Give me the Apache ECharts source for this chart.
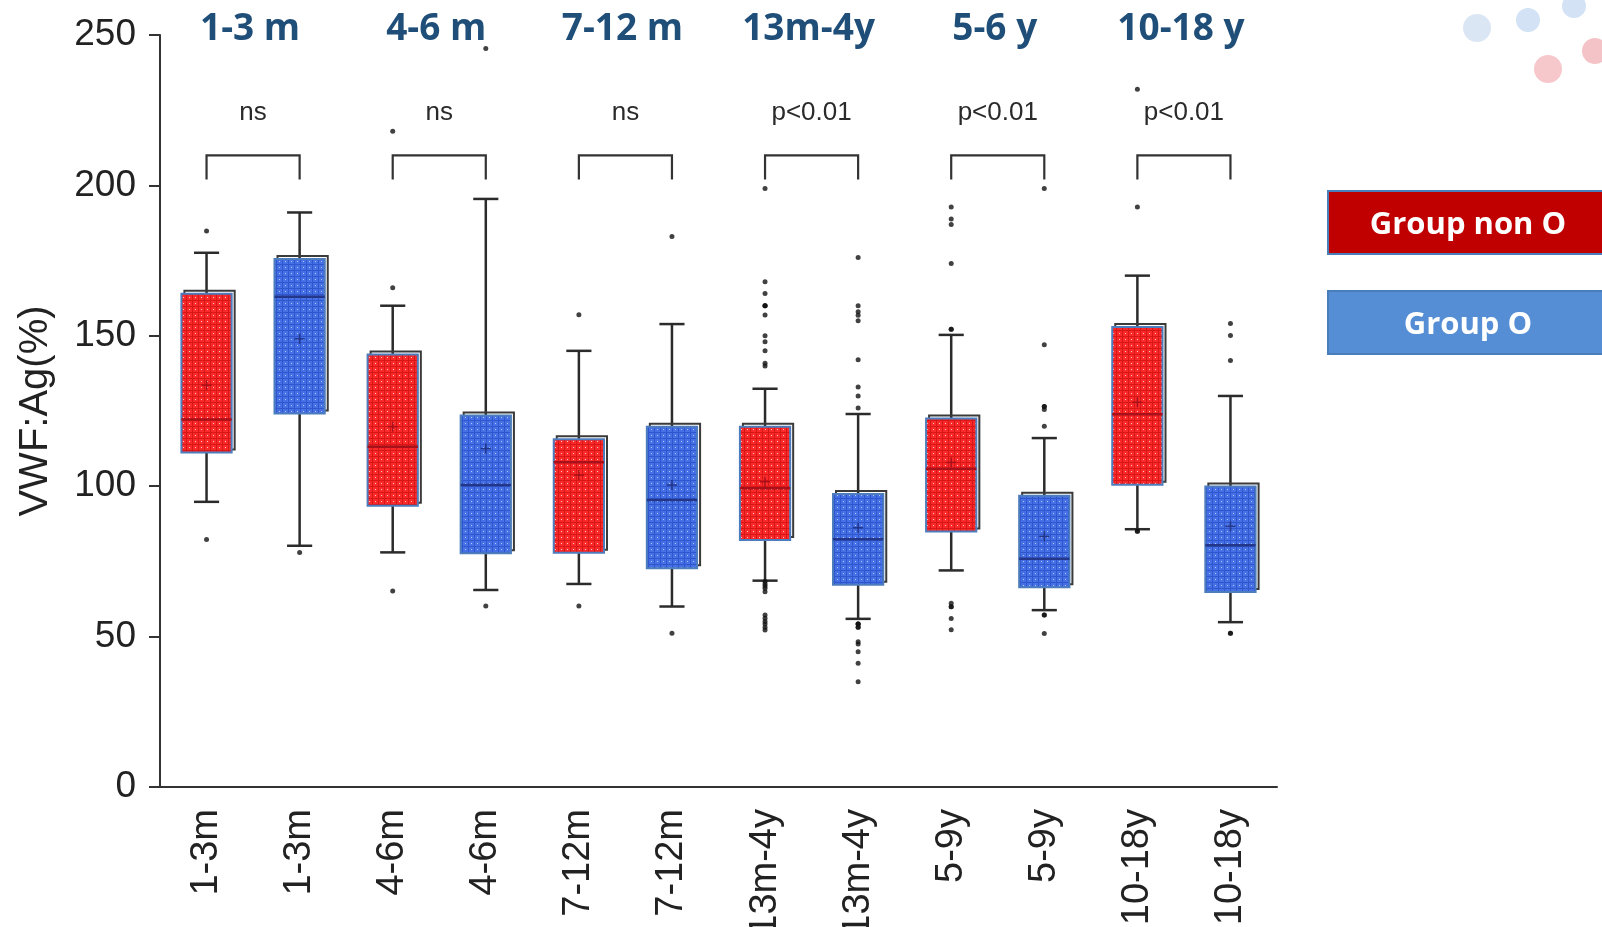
<!DOCTYPE html>
<html>
<head>
<meta charset="utf-8">
<script src="https://cdn.jsdelivr.net/npm/echarts@6/dist/echarts.min.js"></script>
<style>
html,body{margin:0;padding:0;background:#fff;}
#chart{width:1602px;height:927px;}
</style>
</head>
<body>
<div id="chart"></div>
<script>
// ---- data ----
const categories = ['1-3m','1-3m','4-6m','4-6m','7-12m','7-12m','13m-4y','13m-4y','5-9y','5-9y','10-18y','10-18y'];
const groupLabels = ['1-3 m','4-6 m','7-12 m','13m-4y','5-6 y','10-18 y'];
const pLabels = ['ns','ns','ns','p<0.01','p<0.01','p<0.01'];

// [whisker low, Q1, median, Q3, whisker high]
const nonOBoxes = [
  [94.8, 111.2, 122.2, 164.0, 177.6],
  [78.0, 93.5, 113.1, 143.8, 160.0],
  [67.5, 77.9, 108.0, 115.6, 145.0],
  [68.6, 82.1, 99.3, 119.8, 132.4],
  [72.0, 84.9, 105.8, 122.5, 150.3],
  [85.7, 100.5, 123.9, 152.9, 170.0]
];
const oBoxes = [
  [80.2, 124.2, 163.0, 175.5, 191.0],
  [65.5, 77.7, 100.4, 123.5, 195.5],
  [60.0, 72.7, 95.4, 119.8, 153.9],
  [55.9, 67.2, 82.4, 97.4, 124.0],
  [58.8, 66.4, 75.9, 96.8, 116.0],
  [54.8, 64.8, 80.4, 99.9, 130.0]
];
const nonOMeans = [133.6, 119.8, 103.7, 101.5, 107.9, 127.9];
const oMeans = [149.0, 112.5, 100.4, 86.2, 83.3, 86.7];

const nonOOutliers = [
  [184.8, 82.3],
  [218.0, 166.0, 65.2],
  [157.0, 60.2],
  [199.0, 168.0, 164.1, 160.0, 160.0, 160.0, 156.9, 150.0, 148.0, 145.0, 140.9, 140.0,
   68.3, 67.5, 66.8, 66.1, 64.9, 57.2, 56.1, 55.0, 54.2, 53.1, 52.2],
  [192.8, 188.8, 187.0, 174.0, 152.2, 152.2, 61.1, 59.9, 59.9, 56.0, 52.3],
  [232.0, 192.8, 85.0, 85.0]
];
const oOutliers = [
  [78.0],
  [245.5, 60.2],
  [183.0, 51.1],
  [176.0, 160.0, 158.0, 156.8, 155.0, 142.0, 133.0, 130.0, 126.0,
   54.2, 54.2, 54.2, 53.1, 53.1, 48.3, 47.5, 45.0, 41.1, 35.0],
  [199.0, 147.0, 126.5, 126.5, 125.5, 119.9, 57.2, 57.2, 51.0],
  [154.1, 150.1, 141.8, 51.1, 51.1]
];

const yTicks = {min: 0, max: 250, interval: 50};
const bracketLevels = {legLow: 202, top: 210, pText: 224, groupText: 252};

// ---- build ----
function makePattern(base, line, dot) {
  const c = document.createElement('canvas');
  c.width = 6; c.height = 6;
  const g = c.getContext('2d');
  g.fillStyle = base; g.fillRect(0, 0, 6, 6);
  g.fillStyle = line; g.fillRect(0, 0, 6, 1); g.fillRect(0, 0, 1, 6);
  g.fillStyle = dot; g.fillRect(3, 3, 1, 1);
  return c;
}
const redPat = makePattern('#fb2a2a', '#d81616', '#ffc8c8');
const bluePat = makePattern('#4570e6', '#2f56cc', '#b6c7f5');

const boxRows = [];
nonOBoxes.forEach((b, k) => boxRows.push([2 * k, ...b, nonOMeans[k], 0]));
oBoxes.forEach((b, k) => boxRows.push([2 * k + 1, ...b, oMeans[k], 1]));

const nonOScatter = [];
nonOOutliers.forEach((arr, k) => arr.forEach(v => nonOScatter.push([2 * k, v])));
const oScatter = [];
oOutliers.forEach((arr, k) => arr.forEach(v => oScatter.push([2 * k + 1, v])));

function renderBox(params, api) {
  const i = api.value(0);
  const lo = api.coord([i, api.value(1)]);
  const q1 = api.coord([i, api.value(2)]);
  const med = api.coord([i, api.value(3)]);
  const q3 = api.coord([i, api.value(4)]);
  const hi = api.coord([i, api.value(5)]);
  const mean = api.coord([i, api.value(6)]);
  const isO = api.value(7) === 1;
  const band = api.size([1, 0])[0];
  const bw = band * 0.54, cw = band * 0.27;
  const x = lo[0];
  const wStyle = {stroke: '#2b2b2b', lineWidth: 2.5};
  const dark = isO ? '#23368a' : '#a8101a';
  return {
    type: 'group',
    children: [
      {type: 'line', shape: {x1: x, y1: q3[1], x2: x, y2: hi[1]}, style: wStyle},
      {type: 'line', shape: {x1: x, y1: q1[1], x2: x, y2: lo[1]}, style: wStyle},
      {type: 'line', shape: {x1: x - cw / 2, y1: hi[1], x2: x + cw / 2, y2: hi[1]}, style: wStyle},
      {type: 'line', shape: {x1: x - cw / 2, y1: lo[1], x2: x + cw / 2, y2: lo[1]}, style: wStyle},
      {type: 'rect', shape: {x: x - bw / 2 + 3, y: q3[1] - 3, width: bw, height: q1[1] - q3[1]},
        style: {fill: 'none', stroke: '#3a3a3a', lineWidth: 2}},
      {type: 'rect', shape: {x: x - bw / 2, y: q3[1], width: bw, height: q1[1] - q3[1]},
        style: {fill: {image: isO ? bluePat : redPat, repeat: 'repeat'}, stroke: '#4d7dbd', lineWidth: 2}},
      {type: 'line', shape: {x1: x - bw / 2, y1: med[1], x2: x + bw / 2, y2: med[1]},
        style: {stroke: dark, lineWidth: 2.5}},
      {type: 'line', shape: {x1: x - 5, y1: mean[1], x2: x + 5, y2: mean[1]},
        style: {stroke: dark, lineWidth: 1.5}},
      {type: 'line', shape: {x1: x, y1: mean[1] - 5, x2: x, y2: mean[1] + 5},
        style: {stroke: dark, lineWidth: 1.5}}
    ]
  };
}

function renderBracket(params, api) {
  const p = api.value(0);
  const a = api.coord([2 * p, bracketLevels.top]);
  const b = api.coord([2 * p + 1, bracketLevels.top]);
  const yLeg = api.coord([2 * p, bracketLevels.legLow])[1];
  const yP = api.coord([2 * p, bracketLevels.pText])[1];
  const yG = api.coord([2 * p, bracketLevels.groupText])[1];
  const cx = (a[0] + b[0]) / 2;
  const st = {stroke: '#333', lineWidth: 2.2, fill: 'none'};
  return {
    type: 'group',
    children: [
      {type: 'polyline', shape: {points: [[a[0], yLeg], [a[0], a[1]], [b[0], b[1]], [b[0], yLeg]]}, style: st},
      {type: 'text', x: cx, y: yP, style: {text: pLabels[params.dataIndex], fill: '#2a2a2a',
        font: '26px "Liberation Sans", Arial, sans-serif', align: 'center', verticalAlign: 'middle'}},
      {type: 'text', x: cx - 3, y: yG, style: {text: groupLabels[params.dataIndex], fill: '#1f4e79',
        font: 'bold 37px "Open Sans", sans-serif', align: 'center', verticalAlign: 'middle'}}
    ]
  };
}

const chart = echarts.init(document.getElementById('chart'), null, {renderer: 'canvas'});
chart.setOption({
  animation: false,
  backgroundColor: '#ffffff',
  grid: {left: 160, right: 325, top: 35, bottom: 140, containLabel: false, outerBoundsMode: 'none'},
  xAxis: {
    type: 'category',
    data: categories,
    boundaryGap: true,
    axisLine: {lineStyle: {color: '#333', width: 2}},
    axisTick: {alignWithLabel: true, length: 11, lineStyle: {color: '#333', width: 2}},
    axisLabel: {rotate: 90, fontSize: 38, color: '#222', margin: 22, interval: 0,
      fontFamily: '"Liberation Sans", Arial, sans-serif'}
  },
  yAxis: {
    type: 'value',
    min: yTicks.min, max: yTicks.max, interval: yTicks.interval,
    name: 'VWF:Ag(%)', nameLocation: 'middle', nameGap: 104,
    nameTextStyle: {fontSize: 40, color: '#222', fontFamily: '"Liberation Sans", Arial, sans-serif'},
    splitLine: {show: false},
    axisLine: {show: true, lineStyle: {color: '#333', width: 2}},
    axisTick: {show: true, length: 11, lineStyle: {color: '#333', width: 2}},
    axisLabel: {fontSize: 37, color: '#222', margin: 24, fontFamily: '"Liberation Sans", Arial, sans-serif'}
  },
  series: [
    {type: 'custom', renderItem: renderBox, data: boxRows, clip: false,
      encode: {x: 0, y: [1, 2, 3, 4, 5]}, z: 2},
    {type: 'scatter', data: nonOScatter, symbolSize: 5, itemStyle: {color: '#111'}, z: 3},
    {type: 'scatter', data: oScatter, symbolSize: 5, itemStyle: {color: '#111'}, z: 3},
    {type: 'custom', renderItem: renderBracket, data: groupLabels.map((g, k) => [k]), clip: false,
      encode: {x: 0}, z: 4}
  ],
  graphic: [
    {type: 'circle', shape: {cx: 1477, cy: 28, r: 14}, style: {fill: '#dbe6f5'}},
    {type: 'circle', shape: {cx: 1528, cy: 20, r: 12}, style: {fill: '#d3e2f4'}},
    {type: 'circle', shape: {cx: 1574, cy: 6, r: 12}, style: {fill: '#d3e2f4'}},
    {type: 'circle', shape: {cx: 1548, cy: 69, r: 14}, style: {fill: '#f6c8cb'}},
    {type: 'circle', shape: {cx: 1595, cy: 51, r: 13}, style: {fill: '#f4c3c7'}},
    {type: 'rect', shape: {x: 1328, y: 191, width: 290, height: 63},
      style: {fill: '#c00000', stroke: '#4a7ebb', lineWidth: 2}},
    {type: 'text', x: 1468, y: 225, style: {text: 'Group non O', fill: '#fff',
      font: 'bold 31px "Open Sans", sans-serif', align: 'center', verticalAlign: 'middle'}},
    {type: 'rect', shape: {x: 1328, y: 291, width: 290, height: 63},
      style: {fill: '#558ed5', stroke: '#4a7ebb', lineWidth: 2}},
    {type: 'text', x: 1468, y: 325, style: {text: 'Group O', fill: '#fff',
      font: 'bold 31px "Open Sans", sans-serif', align: 'center', verticalAlign: 'middle'}}
  ]
});
</script>
</body>
</html>
